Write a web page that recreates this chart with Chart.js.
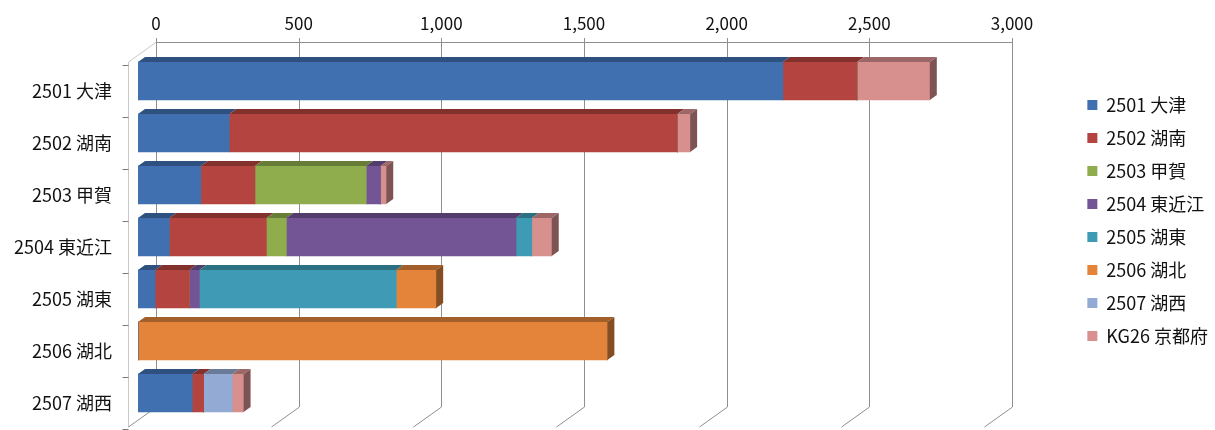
<!DOCTYPE html>
<html lang="ja">
<head>
<meta charset="utf-8">
<script src="https://cdn.jsdelivr.net/npm/chart.js@4.4.1/dist/chart.umd.min.js"></script>
<style>
  html, body { margin: 0; padding: 0; background: #fff; }
</style>
</head>
<body>
<canvas id="chart" width="1215" height="430"></canvas>
<script>
// カテゴリ（地区）
const categories = ['2501 大津', '2502 湖南', '2503 甲賀', '2504 東近江', '2505 湖東', '2506 湖北', '2507 湖西'];

// 系列名と色
const seriesNames = ['2501 大津', '2502 湖南', '2503 甲賀', '2504 東近江', '2505 湖東', '2506 湖北', '2507 湖西', 'KG26 京都府'];
const seriesColors = ['#4170b0', '#b4443f', '#8fad4c', '#735596', '#3f9bb5', '#e3843a', '#93aad4', '#d8908f'];

// 各系列の値（カテゴリ順）
const otsu      = [2260,  320, 220, 110,  60,    0, 190];
const konan     = [ 260, 1570, 190, 340, 120,    0,  40];
const koka      = [   0,    0, 390,  70,   0,    0,   0];
const higashiOmi= [   0,    0,  50, 805,  35,    0,   0];
const koto      = [   0,    0,   0,  55, 690,    0,   0];
const kohoku    = [   0,    0,   0,   0, 140, 1645,   0];
const kosei     = [   0,    0,   0,   0,   0,    0, 100];
const kyotoFu   = [ 255,   45,  20,  70,   0,    0,  40];
const seriesValues = [otsu, konan, koka, higashiOmi, koto, kohoku, kosei, kyotoFu];

// 目盛り
const xTicks = [0, 500, 1000, 1500, 2000, 2500, 3000];

const FONT = '"Noto Sans CJK JP", "Noto Sans", sans-serif';

// 色を暗くする
function shade(hex, f) {
    const n = parseInt(hex.slice(1), 16);
    const r = Math.round(((n >> 16) & 255) * f);
    const g = Math.round(((n >> 8) & 255) * f);
    const b = Math.round((n & 255) * f);
    return `rgb(${r},${g},${b})`;
}

// 3D風の壁・目盛線・棒の上面と側面を描く
const depthPlugin = {
    id: 'depth3d',
    afterLayout(chart) {
        // 凡例の位置を微調整
        chart.legend.top += 11;
        chart.legend.bottom += 11;
        chart.legend.left += 3;
        chart.legend.right += 3;
    },
    beforeDatasetsDraw(chart) {
        const { ctx, chartArea: a, scales: { x } } = chart;
        const wallTop = a.top - 13;
        const wallBottom = a.bottom - 12;
        ctx.save();
        ctx.lineWidth = 1;

        // 左の壁
        const left0 = Math.round(x.getPixelForValue(0) + 18) + 0.5;
        const front = left0 - 28;
        ctx.strokeStyle = '#c8c8c8';
        ctx.beginPath();
        ctx.moveTo(left0, wallTop);
        ctx.lineTo(front, wallTop + 20);
        ctx.lineTo(front, wallBottom + 20);
        ctx.stroke();
        ctx.strokeStyle = '#7a7a7a';
        for (let i = 0; i <= categories.length; i++) {
            const ty = Math.round(a.top + 10 + i * (a.bottom - a.top) / categories.length) + 0.5;
            ctx.beginPath();
            ctx.moveTo(front - 6, ty);
            ctx.lineTo(front, ty);
            ctx.stroke();
        }

        // 奥の目盛線
        ctx.strokeStyle = '#8f8f8f';
        xTicks.forEach(v => {
            const bx = Math.round(x.getPixelForValue(v) + 18) + 0.5;
            ctx.beginPath();
            ctx.moveTo(bx, wallTop - 4);
            ctx.lineTo(bx, wallBottom);
            ctx.lineTo(bx - 28, wallBottom + 20);
            ctx.stroke();
        });
        // 上の軸線
        ctx.beginPath();
        ctx.moveTo(Math.round(x.getPixelForValue(0) + 18), wallTop + 0.5);
        ctx.lineTo(Math.round(x.getPixelForValue(3000) + 18), wallTop + 0.5);
        ctx.stroke();
        ctx.restore();
    },
    afterDatasetsDraw(chart) {
        const { ctx } = chart;
        const dx = 7, dy = 5;
        ctx.save();
        categories.forEach((c, j) => {
            let last = null;
            seriesValues.forEach((vals, i) => {
                if (!vals[j]) return;
                const el = chart.getDatasetMeta(i).data[j];
                const top = el.y - el.height / 2;
                ctx.fillStyle = shade(seriesColors[i], 0.72);
                ctx.beginPath();
                ctx.moveTo(el.base, top);
                ctx.lineTo(el.x, top);
                ctx.lineTo(el.x + dx, top - dy);
                ctx.lineTo(el.base + dx, top - dy);
                ctx.closePath();
                ctx.fill();
                last = { el, color: seriesColors[i] };
            });
            if (last) {
                const el = last.el;
                const top = el.y - el.height / 2;
                const bottom = el.y + el.height / 2;
                ctx.fillStyle = shade(last.color, 0.58);
                ctx.beginPath();
                ctx.moveTo(el.x, top);
                ctx.lineTo(el.x + dx, top - dy);
                ctx.lineTo(el.x + dx, bottom - dy);
                ctx.lineTo(el.x, bottom);
                ctx.closePath();
                ctx.fill();
            }
        });
        ctx.restore();
    }
};

const ctx = document.getElementById('chart').getContext('2d');
new Chart(ctx, {
    type: 'bar',
    data: {
        labels: categories,
        datasets: seriesNames.map((name, i) => ({
            label: name,
            data: seriesValues[i],
            backgroundColor: seriesColors[i],
            borderWidth: 0,
            barThickness: 38
        }))
    },
    options: {
        indexAxis: 'y',
        responsive: false,
        animation: false,
        devicePixelRatio: 1,
        layout: { autoPadding: false, padding: { top: 0, bottom: 11, left: 0, right: 0 } },
        plugins: {
            legend: {
                position: 'right',
                align: 'center',
                labels: {
                    boxWidth: 10,
                    boxHeight: 10,
                    padding: 15,
                    color: '#111',
                    font: { size: 18, family: FONT }
                }
            },
            tooltip: { enabled: false }
        },
        scales: {
            x: {
                position: 'top',
                stacked: true,
                bounds: 'data',
                min: 0,
                // 手前の面で 3000 = 856px になるよう最大値を合わせる
                afterDataLimits: s => { s.max = s.width > 0 ? 3000 * s.width / 856 : 3300; },
                afterBuildTicks: s => { s.ticks = xTicks.map(v => ({ value: v })); },
                afterFit: s => { s.height = 55; },
                grid: { display: false, drawTicks: false },
                border: { display: false },
                ticks: {
                    labelOffset: 18,
                    padding: 21,
                    autoSkip: false,
                    maxRotation: 0,
                    color: '#111',
                    font: { size: 17, family: FONT },
                    callback: v => v.toLocaleString('en-US')
                }
            },
            y: {
                stacked: true,
                afterFit: s => { s.width = 138; },
                grid: { display: false, drawTicks: true, tickLength: 26 },
                border: { display: false },
                ticks: {
                    labelOffset: 10,
                    padding: 0,
                    color: '#111',
                    font: { size: 18, family: FONT }
                }
            }
        }
    },
    plugins: [depthPlugin]
});
</script>
</body>
</html>
